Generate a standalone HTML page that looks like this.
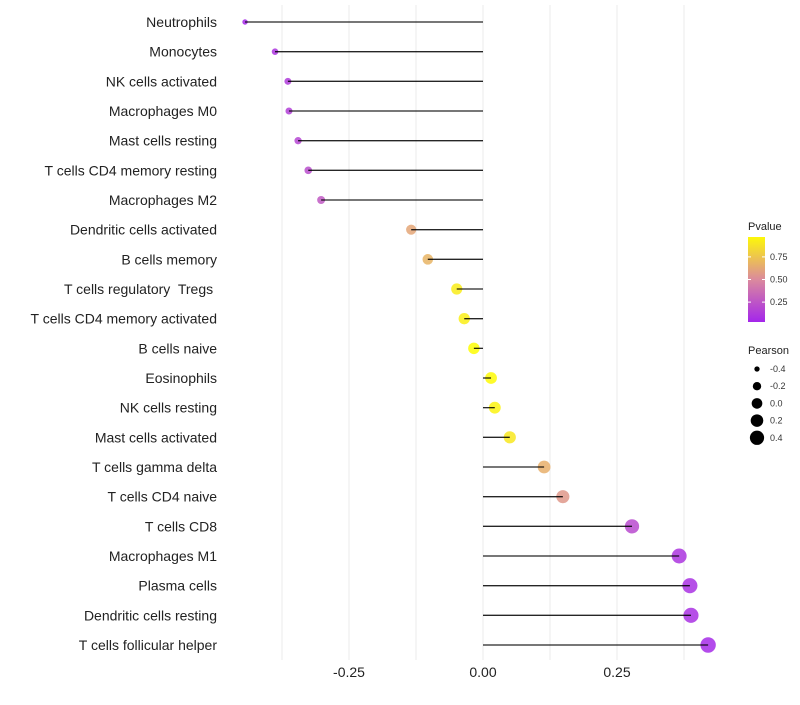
<!DOCTYPE html>
<html><head><meta charset="utf-8"><style>
body{margin:0;background:#fff;font-family:"Liberation Sans",sans-serif}
text{white-space:pre}
</style></head><body>
<svg id="c" width="800" height="700" xmlns="http://www.w3.org/2000/svg"></svg>
<script>
const categories=["Neutrophils","Monocytes","NK cells activated","Macrophages M0","Mast cells resting","T cells CD4 memory resting","Macrophages M2","Dendritic cells activated","B cells memory","T cells regulatory  Tregs ","T cells CD4 memory activated","B cells naive","Eosinophils","NK cells resting","Mast cells activated","T cells gamma delta","T cells CD4 naive","T cells CD8","Macrophages M1","Plasma cells","Dendritic cells resting","T cells follicular helper"];
const pearson=[-0.444,-0.388,-0.364,-0.362,-0.345,-0.326,-0.302,-0.134,-0.103,-0.049,-0.035,-0.017,0.015,0.022,0.050,0.114,0.149,0.278,0.366,0.386,0.388,0.420];
const pvalue=[0.04,0.10,0.13,0.15,0.18,0.21,0.27,0.62,0.68,0.92,0.93,0.99,0.98,0.95,0.90,0.66,0.56,0.20,0.10,0.08,0.08,0.05];
const xTicks=[-0.25,0,0.25];
const xTickLabels=["-0.25","0.00","0.25"];
const xGrid=[-0.375,-0.25,-0.125,0,0.125,0.25,0.375];
const cbTicks=[0.25,0.5,0.75];
const sizeTicks=[-0.4,-0.2,0.0,0.2,0.4];
const sizeLabels=["-0.4","-0.2","0.0","0.2","0.4"];

const svg=document.getElementById('c');const NS="http://www.w3.org/2000/svg";
function mk(t,a,p){const e=document.createElementNS(NS,t);for(const k in a)e.setAttribute(k,a[k]);(p||svg).appendChild(e);return e;}
const x=v=>483+v*536;
const y=i=>22+i*(645-22)/21;
const r=v=>Math.sqrt(Math.max(4,34+60*v));
function col(p){const s=[[0,[160,32,240]],[0.5,[219,138,157]],[1,[255,255,0]]];let a=s[0],b=s[1];if(p>0.5){a=s[1];b=s[2];}const t=(p-a[0])/(b[0]-a[0]);return 'rgb('+a[1].map((c,i)=>Math.round(c+(b[1][i]-c)*t)).join(',')+')';}
xGrid.forEach(g=>{const l=mk('line',{x1:x(g),x2:x(g),y1:5,y2:660,stroke:'#ebebeb','stroke-width':1});

});
xTicks.forEach((t,i)=>{const e=mk('text',{x:x(t),y:677,'text-anchor':'middle','font-size':14,fill:'#222'});e.textContent=xTickLabels[i];

});
categories.forEach((c,i)=>{
const t=mk('text',{x:217,y:y(i)+5,'text-anchor':'end','font-size':14,fill:'#222'});t.textContent=c;


const d=mk('circle',{cx:x(pearson[i]),cy:y(i),r:r(pearson[i]),fill:col(pvalue[i]),'fill-opacity':0.85});


const l=mk('line',{x1:x(0),x2:x(pearson[i]),y1:y(i),y2:y(i),stroke:'#000','stroke-width':1.3,'stroke-opacity':0.85});


});
const lt=mk('text',{x:748,y:230,'font-size':11,fill:'#222'});lt.textContent='Pvalue';


const defs=mk('defs',{});const g=mk('linearGradient',{id:'gr',x1:0,y1:1,x2:0,y2:0},defs);
[0,0.25,0.5,0.75,1].forEach(p=>mk('stop',{offset:p,'stop-color':col(0.03+p*0.94)},g));
const cb=mk('rect',{x:748,y:237,width:17,height:85,fill:'url(#gr)'});


const cy=p=>322-(p-0.03)/0.94*85;
cbTicks.forEach(p=>{mk('line',{x1:748,x2:751,y1:cy(p),y2:cy(p),stroke:'#fff'});mk('line',{x1:762,x2:765,y1:cy(p),y2:cy(p),stroke:'#fff'});
const e=mk('text',{x:770,y:cy(p)+3,'font-size':9,fill:'#333'});e.textContent=p.toFixed(2);

});
const st=mk('text',{x:748,y:354,'font-size':11,fill:'#222'});st.textContent='Pearson';


sizeTicks.forEach((v,i)=>{const yy=369+i*17.2;
const c=mk('circle',{cx:757,cy:yy,r:r(v)-0.5,fill:'#000'});


const e=mk('text',{x:770,y:yy+3,'font-size':9,fill:'#333'});e.textContent=sizeLabels[i];

});
</script>
</body></html>
